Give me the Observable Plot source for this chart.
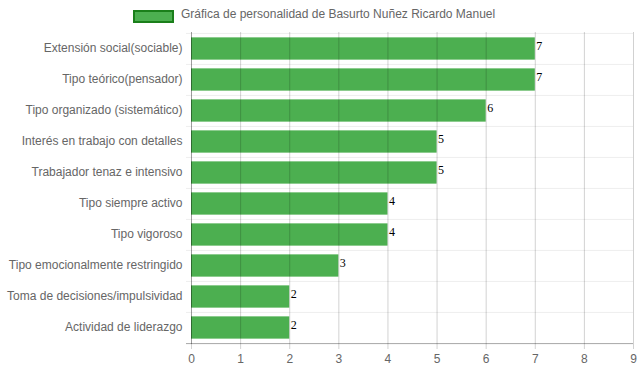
<!DOCTYPE html>
<html>
<head>
<meta charset="utf-8">
<script src="https://cdn.jsdelivr.net/npm/d3@7"></script>
<script src="https://cdn.jsdelivr.net/npm/@observablehq/plot@0.6"></script>
<style>
  body { margin: 0; background: #fff; font-family: "Liberation Sans", Arial, sans-serif; }
  #wrap { position: relative; width: 639px; height: 372px; }
  #legend { position: absolute; left: 0; top: 0; width: 639px; height: 28px; }
  #legend .box { position: absolute; left: 133px; top: 10px; width: 37px; height: 9px; background: rgb(76,175,80); border: 2px solid #1a7f1a; }
  #legend .lbl { position: absolute; left: 181px; top: 7px; font-size: 12px; color: #666; white-space: nowrap; line-height: 14px; }
  #chart { position: absolute; left: 0; top: 0; }
</style>
</head>
<body>
<div id="wrap">
  <div id="chart"></div>
  <div id="legend"><div class="box"></div><div class="lbl">Gráfica de personalidad de Basurto Nuñez Ricardo Manuel</div></div>
</div>
<script>
const categories = [
  "Extensión social(sociable)",
  "Tipo teórico(pensador)",
  "Tipo organizado (sistemático)",
  "Interés en trabajo con detalles",
  "Trabajador tenaz e intensivo",
  "Tipo siempre activo",
  "Tipo vigoroso",
  "Tipo emocionalmente restringido",
  "Toma de decisiones/impulsividad",
  "Actividad de liderazgo"
];
const values = [7, 7, 6, 5, 5, 4, 4, 3, 2, 2];
const xTicks = [0, 1, 2, 3, 4, 5, 6, 7, 8, 9];

const data = categories.map((c, i) => ({category: c, value: values[i]}));

const W = 639, H = 372, mT = 32, mB = 28, mL = 191, mR = 6;
const band = (H - mT - mB) / categories.length;
const inset = band * 0.14;

const chart = Plot.plot({
  width: W,
  height: H,
  marginTop: mT,
  marginBottom: mB,
  marginLeft: mL,
  marginRight: mR,
  style: {fontFamily: "'Liberation Sans', Arial, sans-serif", fontSize: "12px", background: "transparent"},
  x: {domain: [0, 9], axis: null, label: null},
  y: {domain: categories, padding: 0, axis: null, label: null},
  marks: [
    Plot.ruleY(categories, {y: d => d, dy: -band / 2, x1: -5 / 49.1, x2: 9, stroke: "rgba(0,0,0,0.07)"}),
    Plot.barX(data, {y: "category", x: "value", fill: "rgb(76,175,80)", insetTop: inset, insetBottom: inset}),
    Plot.ruleX(xTicks, {x: d => d, stroke: "rgba(0,0,0,0.18)"}),
    Plot.axisX({ticks: xTicks, label: null, tickSize: 5, tickPadding: 5, stroke: "rgba(0,0,0,0.18)", fill: "#666", fontSize: 12, tickFormat: d => String(d)}),
    Plot.ruleY([categories[categories.length - 1]], {y: d => d, dy: band / 2, x1: -5 / 49.1, x2: 9, stroke: "rgba(0,0,0,0.35)"}),
    Plot.ruleX([0], {x: d => d, stroke: "rgba(0,0,0,0.25)"}),
    Plot.axisY({label: null, tickSize: 0, tickPadding: 9, dy: -1, fill: "#666", fontSize: 12}),
    Plot.text(data, {y: "category", x: "value", text: d => String(d.value), textAnchor: "start", dx: 1, dy: -3, fill: "#000", fontSize: 12, fontFamily: "'Liberation Serif', 'Times New Roman', serif"})
  ]
});
document.getElementById("chart").appendChild(chart);
</script>
</body>
</html>
